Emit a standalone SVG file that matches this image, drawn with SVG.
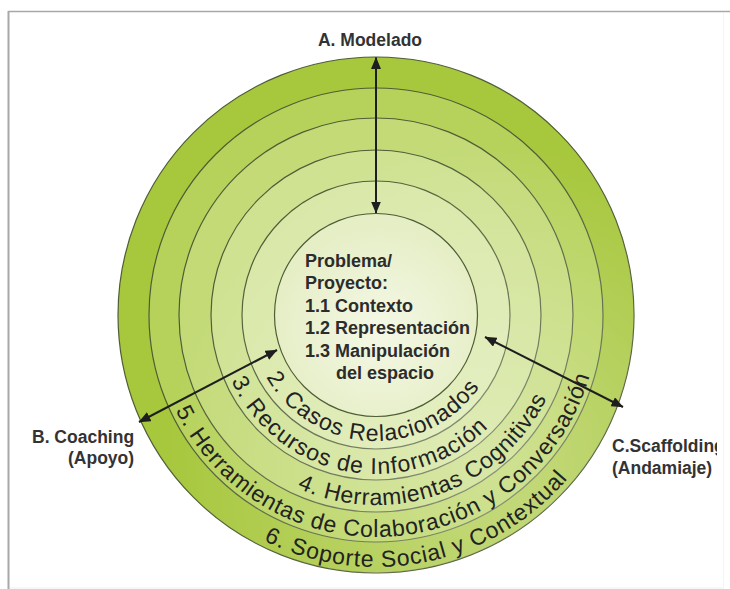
<svg xmlns="http://www.w3.org/2000/svg" width="730" height="589" viewBox="0 0 730 589">
<style>
.ring{stroke:#4f5d36;stroke-width:1.2}
.lbl{font-family:"Liberation Sans",Arial,sans-serif;font-weight:bold;font-size:17.5px;fill:#333}
.ctr{font-family:"Liberation Sans",Arial,sans-serif;font-weight:bold;font-size:18px;fill:#2c2c2c}
.arc{font-family:"Liberation Sans",Arial,sans-serif;font-size:23px;fill:#222}
.conn{stroke:#1e1e1e;stroke-width:2;fill:none;marker-start:url(#ah);marker-end:url(#ah)}
</style>
<defs>
<marker id="ah" viewBox="0 0 12 10" markerWidth="12" markerHeight="10" refX="11.5" refY="5" orient="auto-start-reverse" markerUnits="userSpaceOnUse">
<path d="M0,0 L12,5 L0,10 z" fill="#1e1e1e"/>
</marker>
<radialGradient id="hl" cx="490" cy="470" r="330" gradientUnits="userSpaceOnUse">
<stop offset="0" stop-color="#ffffff" stop-opacity="0.35"/>
<stop offset="1" stop-color="#ffffff" stop-opacity="0"/>
</radialGradient>
<radialGradient id="inner" cx="380" cy="330" r="105" gradientUnits="userSpaceOnUse">
<stop offset="0" stop-color="#f4f8e6"/>
<stop offset="1" stop-color="#e6eec6"/>
</radialGradient>
<clipPath id="clipC"><rect x="0" y="0" width="717" height="589"/></clipPath>
<path id="p2" d="M266.3,377.0 A126,126 0 0,0 479.5,386.9"/>
<path id="p3" d="M231.3,380.9 A159,159 0 0,0 488.4,427.4"/>
<path id="p4" d="M297.2,487.9 A190,190 0 0,0 546.8,398.3"/>
<path id="p5" d="M175.5,410.2 A222,222 0 0,0 589.4,376.2"/>
<path id="p6" d="M263.6,540.5 A252,252 0 0,0 567.4,479.0"/>
</defs>
<rect width="730" height="589" fill="#ffffff"/>
<g id="frame">
<line x1="8" y1="11.5" x2="730" y2="11.5" stroke="#a8a8a8" stroke-width="1.5"/>
<line x1="8.5" y1="11" x2="8.5" y2="589" stroke="#a8a8a8" stroke-width="2"/>
<line x1="10" y1="588" x2="724" y2="588" stroke="#efefef" stroke-width="1"/>
<line x1="723.5" y1="13" x2="723.5" y2="588" stroke="#f5f5f5" stroke-width="1"/>
</g>
<g id="ring6"><circle class="ring" cx="376" cy="315" r="258" fill="#a7c73c"/></g>
<g id="ring5"><circle class="ring" cx="376" cy="315" r="227" fill="#b6d25a"/></g>
<g id="ring4"><circle class="ring" cx="376" cy="315" r="197" fill="#c3da77"/></g>
<g id="ring3"><circle class="ring" cx="376" cy="315" r="165" fill="#cfe292"/></g>
<g id="ring2"><circle class="ring" cx="376" cy="315" r="134" fill="#d9e8a8"/></g>
<circle cx="376" cy="315" r="258" fill="url(#hl)"/>
<g id="problema">
<circle class="ring" cx="376" cy="315" r="101.5" fill="url(#inner)"/>
<text class="ctr" x="305" y="267">Problema/</text>
<text class="ctr" x="305" y="289">Proyecto:</text>
<text class="ctr" x="305" y="311.5">1.1 Contexto</text>
<text class="ctr" x="305" y="334">1.2 Representación</text>
<text class="ctr" x="305" y="356.5">1.3 Manipulación</text>
<text class="ctr" x="336" y="378.5">del espacio</text>
</g>
<g id="ring-texts">
<text class="arc"><textPath href="#p2" textLength="254" lengthAdjust="spacing">2. Casos Relacionados</textPath></text>
<text class="arc"><textPath href="#p3" textLength="306" lengthAdjust="spacing">3. Recursos de Información</textPath></text>
<text class="arc"><textPath href="#p4" textLength="293" lengthAdjust="spacing">4. Herramientas Cognitivas</textPath></text>
<text class="arc"><textPath href="#p5" textLength="537" lengthAdjust="spacing">5. Herramientas de Colaboración y Conversación</textPath></text>
<text class="arc"><textPath href="#p6" textLength="334" lengthAdjust="spacing">6. Soporte Social y Contextual</textPath></text>
</g>
<g id="connectors">
<line class="conn" x1="376" y1="57.5" x2="376" y2="213"/>
<line class="conn" x1="277" y1="350" x2="139" y2="422"/>
<line class="conn" x1="485" y1="337" x2="623" y2="407"/>
</g>
<g id="modelado"><text class="lbl" x="370" y="46" text-anchor="middle">A. Modelado</text></g>
<g id="coaching">
<text class="lbl" x="32" y="443">B. Coaching</text>
<text class="lbl" x="68" y="463.5">(Apoyo)</text>
</g>
<g id="scaffolding" clip-path="url(#clipC)">
<text class="lbl" x="612" y="452">C.Scaffolding</text>
<text class="lbl" x="612" y="474">(Andamiaje)</text>
</g>
</svg>
